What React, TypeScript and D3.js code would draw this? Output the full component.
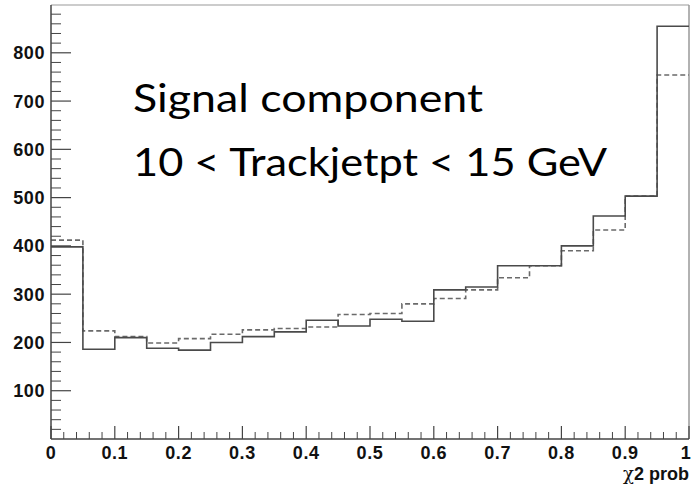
import React from "react";
import * as d3 from "d3";

const binEdges = [0, 0.05, 0.1, 0.15, 0.2, 0.25, 0.3, 0.35, 0.4, 0.45, 0.5, 0.55, 0.6, 0.65, 0.7, 0.75, 0.8, 0.85, 0.9, 0.95, 1.0];
const solidValues = [398, 186, 210, 188, 184, 200, 212, 222, 246, 234, 248, 244, 309, 315, 359, 359, 400, 462, 503, 855];
const dashedValues = [412, 224, 212, 199, 208, 217, 226, 229, 232, 258, 260, 280, 291, 309, 334, 359, 390, 433, 503, 754];
const xMajorTicks = [0, 0.1, 0.2, 0.3, 0.4, 0.5, 0.6, 0.7, 0.8, 0.9, 1];
const xTickLabels = ["0", "0.1", "0.2", "0.3", "0.4", "0.5", "0.6", "0.7", "0.8", "0.9", "1"];
const yMajorTicks = [100, 200, 300, 400, 500, 600, 700, 800];
const yTickLabels = ["100", "200", "300", "400", "500", "600", "700", "800"];
const titleLines = ["Signal component", "10 < Trackjetpt < 15 GeV"];
const titleWidths = [350, 474];
const xAxisTitleSymbol = "χ";
const xAxisTitleRest = "2 prob";

const W = 692;
const H = 486;
const left = 51;
const right = 689;
const top = 5;
const bottom = 439;

export default function App() {
  const x = d3.scaleLinear().domain([0, 1]).range([left, right]);
  const y = d3.scaleLinear().domain([0, 899]).range([bottom, top]);

  const stepPoints = (vals: number[]) => {
    const pts: [number, number][] = [];
    vals.forEach((v, i) => {
      pts.push([x(binEdges[i]), y(v)]);
      pts.push([x(binEdges[i + 1]), y(v)]);
    });
    return pts;
  };
  const line = d3.line();
  const solidPath = line(stepPoints(solidValues)) || "";
  const dashedPath = line(stepPoints(dashedValues)) || "";

  const xMinor = d3.range(0, 51).map((i) => i * 0.02).filter((t) => Math.abs(t * 10 - Math.round(t * 10)) > 1e-6);
  const yMinor = d3.range(1, 45).map((i) => i * 20).filter((t) => t % 100 !== 0);

  const axisColor = "#444";
  const labelFont = "'Liberation Sans', Arial, sans-serif";

  return (
    <svg width={W} height={H} style={{ position: "absolute", left: 0, top: 0, background: "#fff" }}>
      <rect x={0} y={0} width={W} height={H} fill="#fff" />
      {/* frame */}
      <line x1={left} x2={right} y1={top} y2={top} stroke="#bbb" strokeWidth={1.5} />
      <line x1={right} x2={right} y1={top} y2={bottom} stroke="#999" strokeWidth={1.5} />
      {/* histograms */}
      <path d={dashedPath} fill="none" stroke="#6a6a6a" strokeWidth={1.6} strokeDasharray="5,3" />
      <path d={solidPath} fill="none" stroke="#4a4a4a" strokeWidth={1.6} />
      {/* axes */}
      <line x1={left} x2={right} y1={bottom} y2={bottom} stroke={axisColor} strokeWidth={1.5} />
      <line x1={left} x2={left} y1={top} y2={bottom} stroke={axisColor} strokeWidth={1.5} />
      {xMajorTicks.map((t) => (
        <line key={"xm" + t} x1={x(t)} x2={x(t)} y1={bottom} y2={bottom - 13} stroke={axisColor} strokeWidth={1.2} />
      ))}
      {xMinor.map((t) => (
        <line key={"xn" + t} x1={x(t)} x2={x(t)} y1={bottom} y2={bottom - 7} stroke={axisColor} strokeWidth={1} />
      ))}
      {yMajorTicks.map((t) => (
        <line key={"ym" + t} x1={left} x2={left + 20} y1={y(t)} y2={y(t)} stroke={axisColor} strokeWidth={1.2} />
      ))}
      {yMinor.map((t) => (
        <line key={"yn" + t} x1={left} x2={left + 10} y1={y(t)} y2={y(t)} stroke={axisColor} strokeWidth={1} />
      ))}
      {xMajorTicks.map((t, i) => (
        <text key={"xl" + t} x={Math.min(x(t), 686)} y={459} textAnchor="middle" fontFamily={labelFont} fontWeight="bold" fontSize={18} letterSpacing={0.6} fill="#111">
          {xTickLabels[i]}
        </text>
      ))}
      {yMajorTicks.map((t, i) => (
        <text key={"yl" + t} x={45} y={y(t) + 6.5} textAnchor="end" fontFamily={labelFont} fontWeight="bold" fontSize={18} letterSpacing={0.6} fill="#111">
          {yTickLabels[i]}
        </text>
      ))}
      <text x={689} y={480} textAnchor="end" fontFamily={labelFont} fontWeight="bold" fontSize={18} fill="#111">
        <tspan fontFamily="'DejaVu Serif', 'Liberation Serif', serif" fontWeight="normal">{xAxisTitleSymbol}</tspan>
        {xAxisTitleRest}
      </text>
      {titleLines.map((s, i) => (
        <text key={"t" + i} x={133} y={112 + i * 64} fontFamily="Lato, 'Open Sans', sans-serif" fontSize={38} fill="#000" textLength={titleWidths[i]} lengthAdjust="spacingAndGlyphs">
          {s}
        </text>
      ))}
    </svg>
  );
}
